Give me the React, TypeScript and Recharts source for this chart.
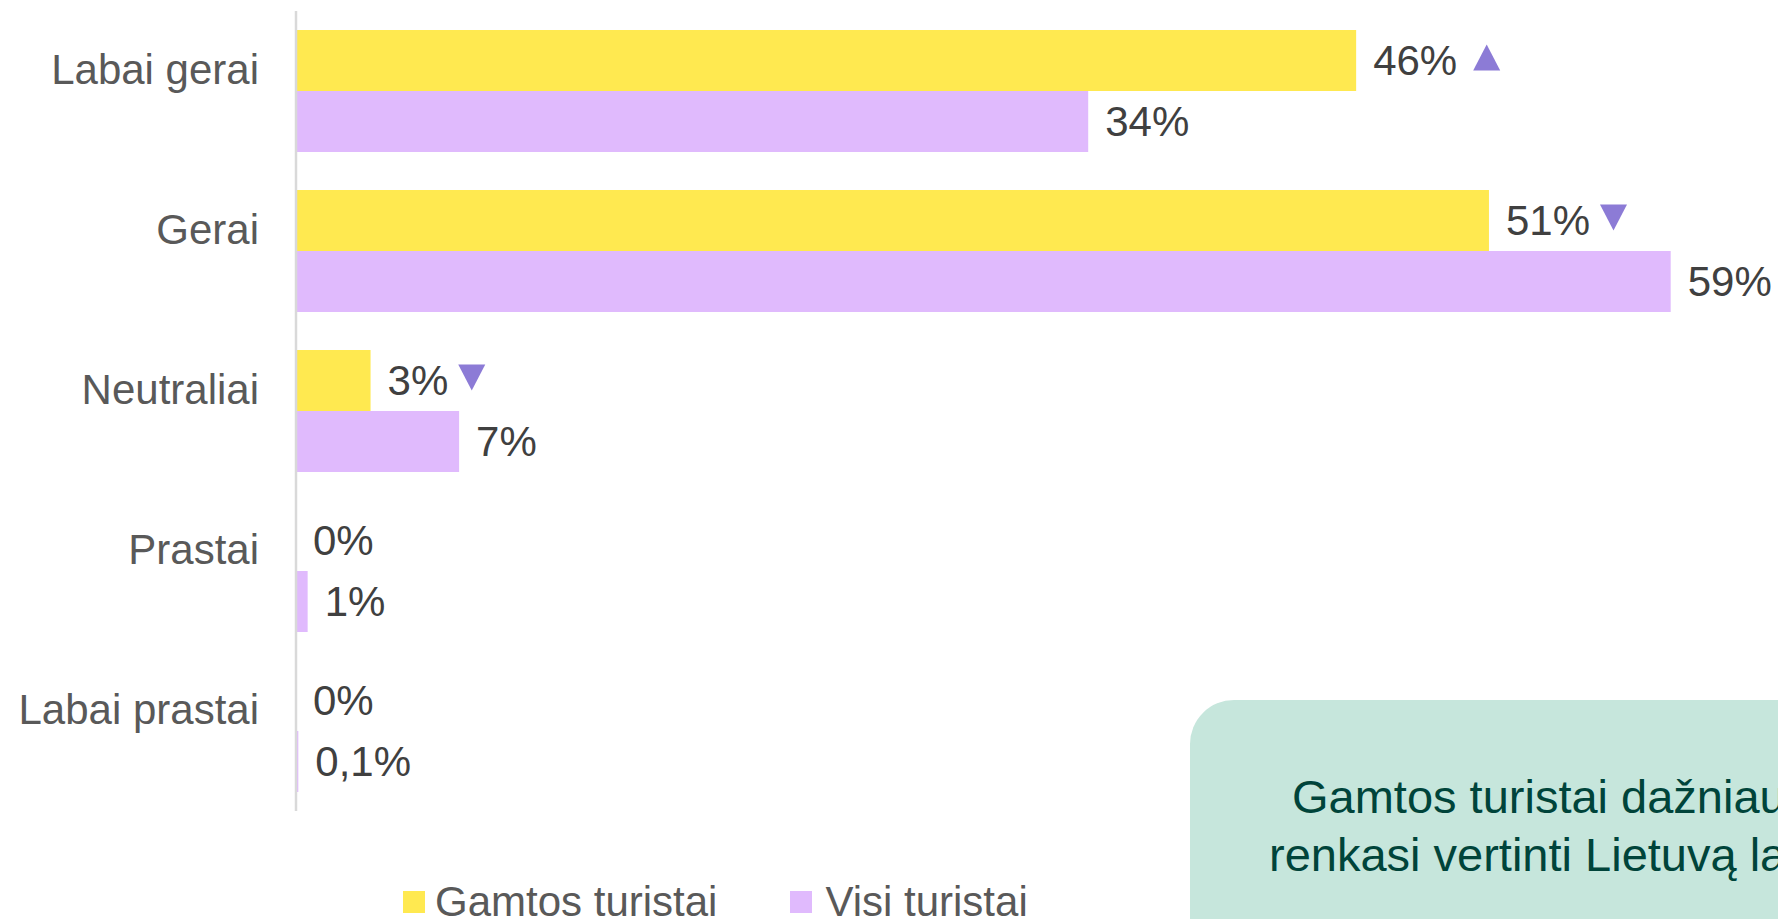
import React from 'react';
import { BarChart, Bar, XAxis, YAxis, LabelList, Legend } from 'recharts';

const categories = ['Labai gerai', 'Gerai', 'Neutraliai', 'Prastai', 'Labai prastai'];
const gamtosValues = [45.5, 51.2, 3.2, 0, 0];
const visiValues = [34, 59, 7, 0.5, 0.1];
const gamtosLabels = ['46%', '51%', '3%', '0%', '0%'];
const visiLabels = ['34%', '59%', '7%', '1%', '0,1%'];
const gamtosTrend = ['up', 'down', 'down', '', ''];
const seriesNames = ['Gamtos turistai', 'Visi turistai'];
const calloutLines = ['Gamtos turistai dažniau', 'renkasi vertinti Lietuvą labai'];

const data = categories.map((name, i) => ({ name, gamtos: gamtosValues[i], visi: visiValues[i] }));

const FONT = '"Liberation Sans", Arial, sans-serif';
const YELLOW = '#FFE950';
const LILAC = '#E0BAFD';
const ARROW = '#8C7BD6';

// rough Arial widths, enough to put the arrow after the label
const textWidth = (s: string, size: number) =>
  s.split('').reduce((w, c) => w + (c === '%' ? 0.889 : c === ',' ? 0.278 : 0.556), 0) * size;

const makeLabel = (labels: string[], trend?: string[]) => (props: any) => {
  const vb = props.viewBox || props;
  const { x, y, width, height } = vb;
  const idx = props.index;
  const text = labels[idx];
  const tx = x + width + 17;
  const cy = y + height / 2;
  const t = trend ? trend[idx] : '';
  let tri = null;
  if (t) {
    const x0 = tx + textWidth(text, 42) + (t === 'up' ? 16 : 10);
    const top = cy - 16;
    const bot = cy + 10;
    const pts =
      t === 'up'
        ? `${x0},${bot} ${x0 + 27},${bot} ${x0 + 13.5},${top}`
        : `${x0},${top} ${x0 + 27},${top} ${x0 + 13.5},${bot}`;
    tri = <polygon points={pts} fill={ARROW} />;
  }
  return (
    <g>
      <text x={tx} y={cy} dy="0.355em" fill="#404040" fontSize={42} fontFamily={FONT}>
        {text}
      </text>
      {tri}
    </g>
  );
};

const CategoryTick = ({ x, y, payload }: any) => (
  <text x={x} y={y} dy={-7} textAnchor="end" fill="#595959" fontSize={42} fontFamily={FONT}>
    {payload.value}
  </text>
);

const LegendContent = ({ payload }: any) => (
  <div style={{ display: 'flex', alignItems: 'center', fontFamily: FONT, fontSize: 42, lineHeight: '48px', color: '#595959' }}>
    {(payload || []).map((p: any, i: number) => (
      <div key={i} style={{ display: 'flex', alignItems: 'center', marginRight: 73 }}>
        <span style={{ width: 22, height: 22, background: p.color, marginRight: i === 0 ? 10 : 13, display: 'inline-block' }} />
        <span style={{ whiteSpace: 'nowrap' }}>{p.value}</span>
      </div>
    ))}
  </div>
);

export default function App() {
  return (
    <div style={{ position: 'absolute', left: 0, top: 0, width: 1778, height: 919, overflow: 'hidden', background: '#fff' }}>
      <BarChart
        width={1778}
        height={919}
        data={data}
        layout="vertical"
        margin={{ top: 11, right: 84, bottom: 108, left: 0 }}
        barCategoryGap={19}
        barGap={0}
      >
        <XAxis type="number" hide domain={[0, 60]} />
        <YAxis
          type="category"
          dataKey="name"
          width={296}
          axisLine={{ stroke: '#D9D9D9', strokeWidth: 2.5 }}
          tickLine={false}
          tickSize={0}
          tickMargin={37}
          tick={<CategoryTick />}
          interval={0}
        />
        <Legend
          layout="horizontal"
          align="center"
          verticalAlign="middle"
          content={<LegendContent />}
          wrapperStyle={{ left: 403, top: 878, width: 800, height: 48 }}
        />
        <Bar dataKey="gamtos" name={seriesNames[0]} fill={YELLOW} minPointSize={0.01} isAnimationActive={false}>
          <LabelList dataKey="gamtos" content={makeLabel(gamtosLabels, gamtosTrend)} />
        </Bar>
        <Bar dataKey="visi" name={seriesNames[1]} fill={LILAC} isAnimationActive={false}>
          <LabelList dataKey="visi" content={makeLabel(visiLabels)} />
        </Bar>
      </BarChart>
      <svg style={{ position: 'absolute', left: 1190, top: 700 }} width={588} height={219}>
        <rect x={0} y={0} width={700} height={400} rx={44} fill="#C6E6DC" />
        <text x={102} y={113} fill="#00443A" fontSize={47} fontFamily={FONT}>{calloutLines[0]}</text>
        <text x={79} y={171} fill="#00443A" fontSize={47} fontFamily={FONT}>{calloutLines[1]}</text>
      </svg>
    </div>
  );
}
